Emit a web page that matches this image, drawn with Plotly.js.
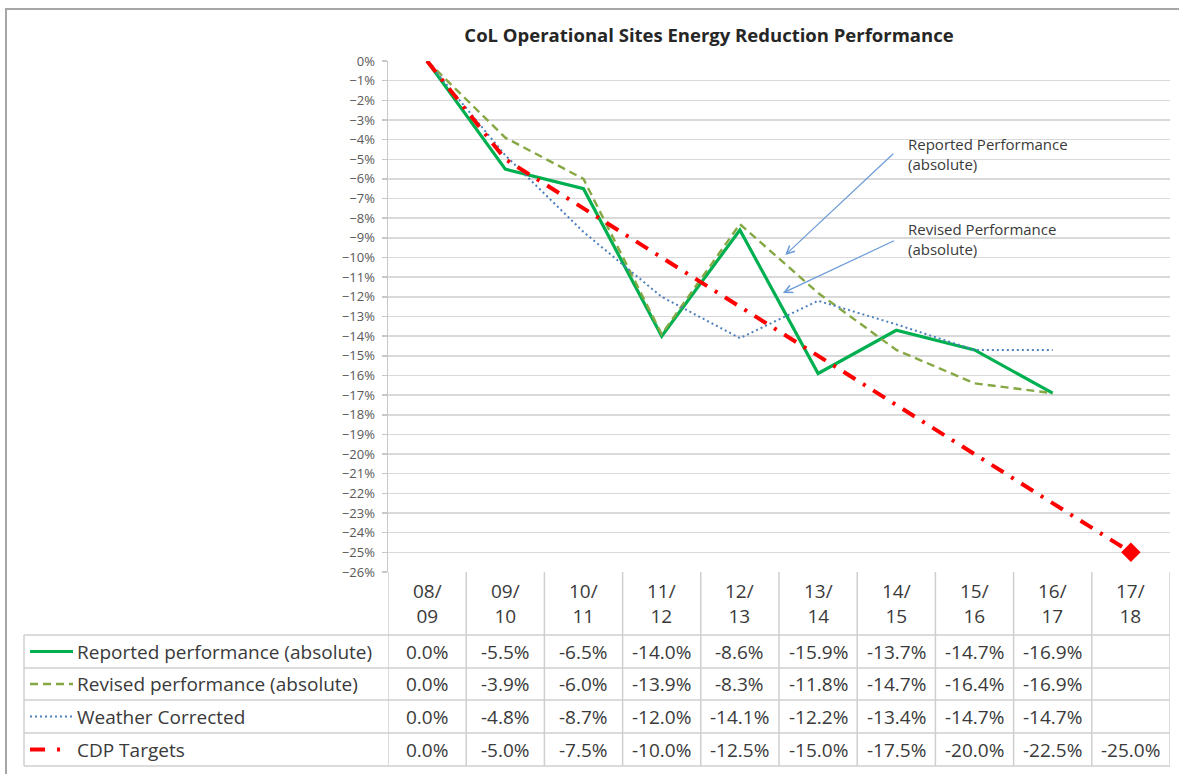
<!DOCTYPE html>
<html>
<head>
<meta charset="utf-8">
<script src="https://cdn.plot.ly/plotly-3.0.1.min.js"></script>
<style>html,body{margin:0;padding:0;background:#fff;}#chart{width:1179px;height:774px;}</style>
</head>
<body>
<div id="chart"></div>
<script>
// ---- data ----
const categories = ["08/09","09/10","10/11","11/12","12/13","13/14","14/15","15/16","16/17","17/18"];
const headerLabels = ["08/<br>09","09/<br>10","10/<br>11","11/<br>12","12/<br>13","13/<br>14","14/<br>15","15/<br>16","16/<br>17","17/<br>18"];
const reported = [0.0, -5.5, -6.5, -14.0, -8.6, -15.9, -13.7, -14.7, -16.9, null];
const revised  = [0.0, -3.9, -6.0, -13.9, -8.3, -11.8, -14.7, -16.4, -16.9, null];
const weather  = [0.0, -4.8, -8.7, -12.0, -14.1, -12.2, -13.4, -14.7, -14.7, null];
const cdp      = [0.0, -5.0, -7.5, -10.0, -12.5, -15.0, -17.5, -20.0, -22.5, -25.0];
const seriesNames = ["Reported performance (absolute)","Revised performance (absolute)","Weather Corrected","CDP Targets"];
const chartTitle = "CoL Operational Sites Energy Reduction Performance";
const note1 = "Reported Performance<br>(absolute)";
const note2 = "Revised Performance<br>(absolute)";

// ---- geometry helpers (pixel -> paper) ----
const L = 388, R = 1170, T = 61, B = 572;
const W = R - L, H = B - T;
const xp = px => (px - L) / W;
const yp = py => (B - py) / H;

const FONT = "'Open Sans', Lato, sans-serif";
const TXT = "#3a3a3a";
const idx = categories.map((_, i) => i);

const styles = [
  {color: "#00b050", width: 3.2, dash: "solid"},
  {color: "#86a844", width: 2.4, dash: "8px,5px"},
  {color: "#4f81bd", width: 2, dash: "2px,3px"},
  {color: "#ff0000", width: 4, dash: "14px,9px,3px,9px"}
];
const allSeries = [reported, revised, weather, cdp];

const traces = allSeries.map((vals, s) => {
  const t = {
    type: "scatter",
    mode: s === 3 ? "lines+markers" : "lines",
    x: idx,
    y: vals,
    name: seriesNames[s],
    line: {color: styles[s].color, width: styles[s].width, dash: styles[s].dash},
    connectgaps: false,
    hoverinfo: "skip"
  };
  if (s === 3) {
    t.marker = {symbol: "diamond", size: vals.map((v, i) => i === vals.length - 1 ? 15 : 0),
      color: "#ff0000", opacity: 1, line: {width: 0}};
  }
  return t;
});

const shapes = [];
const annotations = [];
const tblColor = "#cfcfcf";
const rowEdges = [635, 668, 700, 733, 766];
for (let i = 0; i <= categories.length; i++) {
  shapes.push({type: "line", xref: "x", yref: "paper", x0: i - 0.5, x1: i - 0.5, y0: yp(572), y1: yp(766),
    line: {color: tblColor, width: 1.5}});
}
rowEdges.forEach(py => {
  shapes.push({type: "line", xref: "paper", yref: "paper", x0: xp(24), x1: xp(1170), y0: yp(py), y1: yp(py),
    line: {color: tblColor, width: 1.5}});
});
shapes.push({type: "line", xref: "paper", yref: "paper", x0: xp(24), x1: xp(24), y0: yp(635), y1: yp(766),
  line: {color: tblColor, width: 1.5}});
shapes.push({type: "rect", xref: "paper", yref: "paper", x0: xp(6), x1: xp(1185), y0: yp(9), y1: yp(790),
  line: {color: "#a6a6a6", width: 2}, fillcolor: "rgba(0,0,0,0)"});
// white boxes behind the callout texts (hide gridlines like the reference)
shapes.push({type: "rect", layer: "between", xref: "paper", yref: "paper", x0: xp(896), x1: xp(1100),
  y0: yp(126), y1: yp(188), line: {width: 0}, fillcolor: "#ffffff"});
shapes.push({type: "rect", layer: "between", xref: "paper", yref: "paper", x0: xp(896), x1: xp(1100),
  y0: yp(210), y1: yp(268), line: {width: 0}, fillcolor: "#ffffff"});

headerLabels.forEach((lab, i) => {
  annotations.push({xref: "x", yref: "paper", x: i, y: yp(603), text: lab, showarrow: false,
    font: {family: FONT, size: 19, color: TXT}, xanchor: "center", yanchor: "middle", align: "center"});
});
allSeries.forEach((vals, s) => {
  const cy = (rowEdges[s] + rowEdges[s + 1]) / 2;
  if (s === 3) {
    shapes.push({type: "line", xref: "paper", yref: "paper", x0: xp(30), x1: xp(45), y0: yp(cy), y1: yp(cy),
      line: {color: styles[s].color, width: 4}});
    shapes.push({type: "line", xref: "paper", yref: "paper", x0: xp(57), x1: xp(60), y0: yp(cy), y1: yp(cy),
      line: {color: styles[s].color, width: 4}});
  } else {
    shapes.push({type: "line", xref: "paper", yref: "paper", x0: xp(30), x1: xp(73), y0: yp(cy), y1: yp(cy),
      line: {color: styles[s].color, width: styles[s].width, dash: styles[s].dash}});
  }
  annotations.push({xref: "paper", yref: "paper", x: xp(75), y: yp(cy), text: seriesNames[s], showarrow: false,
    font: {family: FONT, size: 19, color: TXT}, xanchor: "left", yanchor: "middle"});
  vals.forEach((v, i) => {
    if (v === null) return;
    annotations.push({xref: "x", yref: "paper", x: i, y: yp(cy), text: v.toFixed(1) + "%", showarrow: false,
      font: {family: FONT, size: 19, color: TXT}, xanchor: "center", yanchor: "middle"});
  });
});

annotations.push({xref: "paper", yref: "paper", x: xp(906), y: yp(154), text: note1, showarrow: false,
  font: {family: FONT, size: 15, color: TXT}, xanchor: "left", yanchor: "middle", align: "left"});
annotations.push({xref: "paper", yref: "paper", x: xp(906), y: yp(239), text: note2, showarrow: false,
  font: {family: FONT, size: 15, color: TXT}, xanchor: "left", yanchor: "middle", align: "left"});
annotations.push({xref: "x", yref: "y", axref: "x", ayref: "y", x: 4.58, y: -9.87, ax: 5.98, ay: -4.65,
  text: "", showarrow: true, arrowhead: 5, arrowsize: 1.3, arrowwidth: 1.2, arrowcolor: "#6a9bd8"});
annotations.push({xref: "x", yref: "y", axref: "x", ayref: "y", x: 4.55, y: -11.8, ax: 5.99, ay: -9.11,
  text: "", showarrow: true, arrowhead: 5, arrowsize: 1.3, arrowwidth: 1.2, arrowcolor: "#6a9bd8"});

const layout = {
  width: 1179, height: 774,
  margin: {l: L, r: 1179 - R, t: T, b: 774 - B, pad: 0},
  paper_bgcolor: "#ffffff", plot_bgcolor: "#ffffff",
  showlegend: false,
  title: {text: "<b>" + chartTitle + "</b>", x: xp(709), xanchor: "center", y: 1 - 36 / 774, yanchor: "middle",
    xref: "paper", font: {family: FONT, size: 18.5, color: "#262626"}},
  xaxis: {type: "linear", range: [-0.5, 9.5], showgrid: false, zeroline: false, showticklabels: false,
    ticks: "", showline: false, fixedrange: true},
  yaxis: {range: [-26, 0], dtick: 1, tick0: 0, ticksuffix: "%", showgrid: true, gridcolor: "#d9d9d9", gridwidth: 1.5,
    zeroline: false, showline: true, linecolor: "#c8c8c8", linewidth: 1.5, ticks: "outside", ticklen: 5,
    tickcolor: "#c8c8c8", tickwidth: 1.5, tickfont: {family: FONT, size: 13, color: "#595959"}, ticklabelstandoff: 4,
    fixedrange: true},
  shapes: shapes,
  annotations: annotations
};

Plotly.newPlot("chart", traces, layout, {displayModeBar: false, staticPlot: true});
</script>
</body>
</html>
